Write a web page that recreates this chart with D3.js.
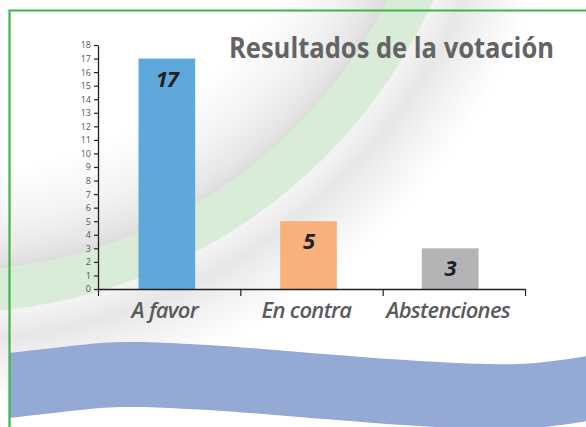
<!DOCTYPE html>
<html>
<head>
<meta charset="utf-8">
<script src="https://cdn.jsdelivr.net/npm/d3@7"></script>
<style>
  html, body { margin: 0; padding: 0; background: #fff; }
  svg { display: block; }
  .ytick text { font-family: "Open Sans", sans-serif; font-size: 9px; fill: #555; }
  .xlab text { font-family: "Open Sans", sans-serif; font-size: 22px; font-weight: 600; font-style: italic; fill: #5b5b5d; letter-spacing: -0.7px; }
</style>
</head>
<body>
<div id="chart"></div>
<script>
const categories = ["A favor", "En contra", "Abstenciones"];
const votes = [17, 5, 3];
const barColors = ["#5fa8dc", "#f8b07c", "#b4b4b7"];
const yTicks = d3.range(0, 19);
const title = "Resultados de la votación";

// decoration: top edge of the blue wave at the bottom
const wavePts = [[9, 353], [80, 345], [140, 342], [250, 348], [374, 358], [486, 364], [545, 362], [600, 354]];

const W = 586, H = 427;
const C = {
    AXIS_X: 98,
    AXIS_END: 525,
    BASE_Y: 289,
    TOP_Y: 45,
    RING_CX: -52,
    RING_CY: -220,
    RING_IN: 491,
    RING_OUT: 533
};

var svg = d3.select("#chart").append("svg")
            .attr("width", W)
            .attr("height", H);

// background shading round the green ribbon
var defs = svg.append("defs");
var rg = defs.append("radialGradient")
             .attr("id", "shade")
             .attr("gradientUnits", "userSpaceOnUse")
             .attr("cx", C.RING_CX).attr("cy", C.RING_CY)
             .attr("fx", C.RING_CX).attr("fy", C.RING_CY)
             .attr("r", 700);
[[0, "#fff"], [395, "#fff"], [445, "#f3f3f3"], [478, "#e6e6e6"], [491, "#dcdcdc"],
 [535, "#f3f3f3"], [560, "#e7e7e7"], [590, "#f3f3f3"], [625, "#fff"], [700, "#fff"]]
    .forEach((s) => rg.append("stop").attr("offset", s[0]/700).attr("stop-color", s[1]));

svg.append("rect")
   .attr("width", W).attr("height", H)
   .attr("fill", "url(#shade)");

svg.append("path")
   .attr("transform", "translate(" + C.RING_CX + "," + C.RING_CY + ")")
   .attr("d", d3.arc()({innerRadius: C.RING_IN, outerRadius: C.RING_OUT, startAngle: 0, endAngle: 2*Math.PI}))
   .attr("fill", "#d9ecd7");

// blue wave
svg.append("path")
   .datum(wavePts)
   .attr("d", d3.area().x((d) => d[0]).y0((d) => d[1]).y1((d) => d[1]+65).curve(d3.curveNatural))
   .attr("fill", "#95a9d5");

// green frame (top and left visible)
svg.append("path")
   .attr("d", "M9.5," + (H+2) + "V10.5H" + (W+2))
   .attr("fill", "none")
   .attr("stroke", "#3db54a")
   .attr("stroke-width", 2.2);

// title
var titleEl = svg.append("text")
   .attr("x", 229)
   .attr("y", 58)
   .attr("font-family", "Open Sans, sans-serif")
   .attr("font-weight", 700)
   .attr("font-size", 28)
   .attr("fill", "#636466")
   .text(title);
var tw = titleEl.node().getComputedTextLength();
if (tw > 325) titleEl.attr("textLength", 325).attr("lengthAdjust", "spacingAndGlyphs");

// scales
var y = d3.scaleLinear().domain([0, 18]).range([C.BASE_Y, C.TOP_Y]);
var x = d3.scaleBand().domain(categories).range([96, 521]).padding(0);
var sep = d3.scaleLinear().domain([0, categories.length]).range([C.AXIS_X, C.AXIS_END]);
var barW = x.bandwidth()*0.4;

// bars
var bars = svg.append("g").selectAll("g.bar")
              .data(categories)
              .enter()
              .append("g")
              .classed("bar", true);
bars.append("rect")
    .attr("x", (d) => x(d) + (x.bandwidth()-barW)/2)
    .attr("y", (d,i) => y(votes[i]))
    .attr("width", barW)
    .attr("height", (d,i) => C.BASE_Y - y(votes[i]))
    .attr("fill", (d,i) => barColors[i]);
bars.append("text")
    .attr("x", (d) => x(d) + x.bandwidth()/2)
    .attr("y", (d,i) => y(votes[i]) + 28)
    .attr("text-anchor", "middle")
    .attr("font-family", "Open Sans, sans-serif")
    .attr("font-size", 22)
    .attr("font-weight", 700)
    .attr("font-style", "italic")
    .attr("letter-spacing", -1)
    .attr("fill", "#231f20")
    .text((d,i) => votes[i]);

// y axis
var yAxis = svg.append("g")
   .classed("ytick", true)
   .attr("transform", "translate(" + C.AXIS_X + ",0)")
   .call(d3.axisLeft(y).tickValues(yTicks).tickSize(4).tickSizeOuter(0).tickPadding(3));
yAxis.select(".domain").attr("stroke", "#231f20").attr("stroke-width", 1.3);
yAxis.selectAll(".tick line").attr("stroke", "#231f20").attr("stroke-width", 1.2);

// x axis with separator ticks
var xAxis = svg.append("g")
   .attr("transform", "translate(0," + C.BASE_Y + ")")
   .call(d3.axisBottom(sep).ticks(categories.length).tickFormat("").tickSize(7).tickSizeOuter(0));
xAxis.select(".domain").attr("stroke", "#231f20").attr("stroke-width", 1.3);
xAxis.selectAll(".tick line").attr("stroke", "#231f20").attr("stroke-width", 1.2);

// category labels
var xLab = svg.append("g")
   .classed("xlab", true)
   .attr("transform", "translate(-2," + C.BASE_Y + ")")
   .call(d3.axisBottom(x).tickSize(0).tickPadding(13));
xLab.select(".domain").remove();
xLab.selectAll("text").attr("font-size", null).attr("font-family", null);
</script>
</body>
</html>
